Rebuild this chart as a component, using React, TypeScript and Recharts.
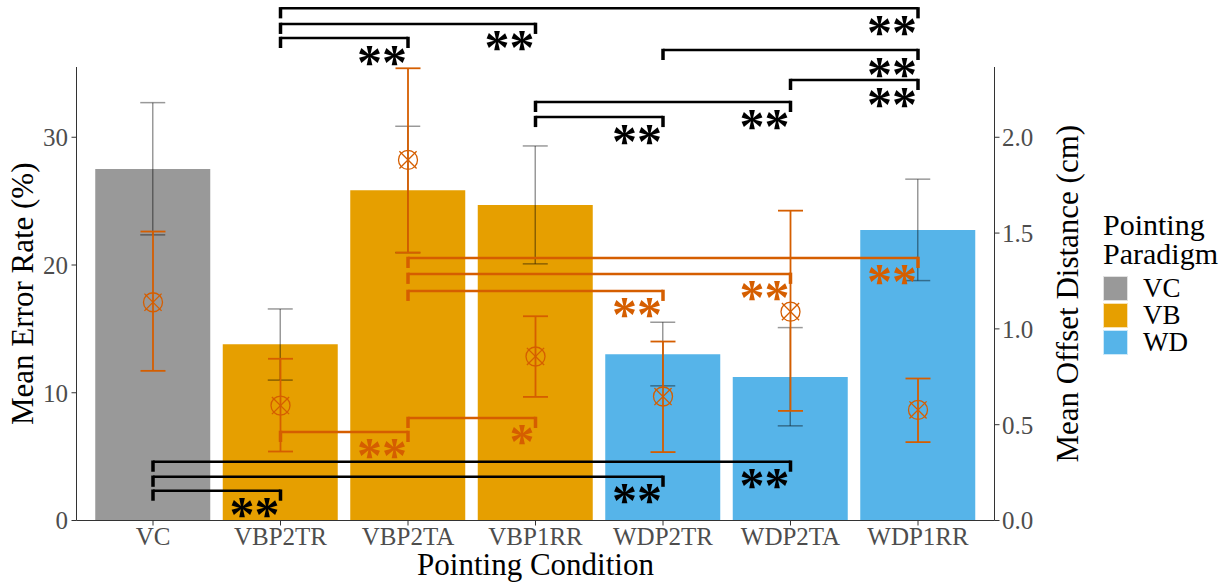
import { ComposedChart, Bar, Cell, ErrorBar, Scatter, XAxis, YAxis, ReferenceLine, Legend, Label } from 'recharts'

const categories = ['VC', 'VBP2TR', 'VBP2TA', 'VBP1RR', 'WDP2TR', 'WDP2TA', 'WDP1RR']
const paradigmOf = ['VC', 'VB', 'VB', 'VB', 'WD', 'WD', 'WD']

// mean error rate (%) with lower / upper bounds of the error bars
const errorRate = [27.52, 13.8, 25.85, 24.7, 13.02, 11.24, 22.75]
const errorRateLow = [22.36, 10.99, 20.97, 20.09, 10.54, 7.41, 18.78]
const errorRateHigh = [32.71, 16.56, 30.86, 29.32, 15.52, 15.1, 26.72]

// mean offset distance (cm) with lower / upper bounds
const offsetCm = [1.139, 0.6, 1.882, 0.856, 0.647, 1.09, 0.577]
const offsetLow = [0.781, 0.36, 1.398, 0.645, 0.357, 0.572, 0.409]
const offsetHigh = [1.508, 0.844, 2.36, 1.066, 0.934, 1.617, 0.741]

const paradigms = ['VC', 'VB', 'WD']
const paradigmColors: Record<string, string> = { VC: '#999999', VB: '#E69F00', WD: '#56B4E9' }

const rateTicks = [0, 10, 20, 30]
const offsetTicks = [0, 0.5, 1, 1.5, 2]

// significance brackets: [from, to, height, stars]
const rateSig: [string, string, number, string][] = [
  ['VBP2TR', 'WDP1RR', 40.09, '**'],
  ['VBP2TR', 'VBP1RR', 38.87, '**'],
  ['VBP2TR', 'VBP2TA', 37.77, '**'],
  ['WDP2TR', 'WDP1RR', 36.83, '**'],
  ['WDP2TA', 'WDP1RR', 34.48, '**'],
  ['VBP1RR', 'WDP2TA', 32.76, '**'],
  ['VBP1RR', 'WDP2TR', 31.58, '**'],
  ['VC', 'WDP2TA', 4.6, '**'],
  ['VC', 'WDP2TR', 3.42, '**'],
  ['VC', 'VBP2TR', 2.33, '**'],
]
const offsetSig: [string, string, number, string][] = [
  ['VBP2TA', 'WDP1RR', 1.37, '**'],
  ['VBP2TA', 'WDP2TA', 1.287, '**'],
  ['VBP2TA', 'WDP2TR', 1.198, '**'],
  ['VBP2TA', 'VBP1RR', 0.535, '*'],
  ['VBP2TR', 'VBP2TA', 0.462, '**'],
]

const data = categories.map((c, i) => ({
  condition: c,
  paradigm: paradigmOf[i],
  rate: errorRate[i],
  rateErr: [errorRate[i] - errorRateLow[i], errorRateHigh[i] - errorRate[i]],
  offset: offsetCm[i],
  offsetErr: [offsetCm[i] - offsetLow[i], offsetHigh[i] - offsetCm[i]],
}))

const FONT = "'Liberation Serif', 'Times New Roman', serif"
const ORANGE = '#D55E00'
const STAR = 50

const bracket = (stars: string, color: string) => (p: any) => {
  const { x1, x2, y1 } = p
  return (
    <g>
      <line x1={x1} x2={x2} y1={y1} y2={y1} stroke={color} strokeWidth={2.5} />
      <line x1={x1} x2={x1} y1={y1 - 1.25} y2={y1 + 10} stroke={color} strokeWidth={3.5} />
      <line x1={x2} x2={x2} y1={y1 - 1.25} y2={y1 + 10} stroke={color} strokeWidth={3.5} />
      <text
        x={x2 - 1}
        y={y1 + 17 + 0.47 * STAR}
        textAnchor="end"
        fontSize={STAR}
        fontWeight="bold"
        fill={color}
        fontFamily={FONT}
      >
        {stars}
      </text>
    </g>
  )
}

const CrossCircle = (p: any) => {
  const { cx, cy } = p
  if (cx == null || cy == null) return null
  const d = 8.6
  return (
    <g stroke={ORANGE} strokeWidth={1.3} fill="none">
      <circle cx={cx} cy={cy} r={9.5} />
      <line x1={cx - d} y1={cy - d} x2={cx + d} y2={cy + d} />
      <line x1={cx - d} y1={cy + d} x2={cx + d} y2={cy - d} />
    </g>
  )
}

const renderLegend = () => (
  <div style={{ fontFamily: FONT, color: '#000' }}>
    <div style={{ fontSize: 30, lineHeight: '29px' }}>
      Pointing
      <br />
      Paradigm
    </div>
    <div style={{ marginTop: 7 }}>
      {paradigms.map((p) => (
        <div key={p} style={{ display: 'flex', alignItems: 'center', height: 27 }}>
          <span
            style={{
              width: 25,
              height: 25,
              boxSizing: 'border-box',
              background: paradigmColors[p],
              border: '1px solid rgba(255,255,255,0.7)',
            }}
          />
          <span style={{ marginLeft: 15, fontSize: 27, lineHeight: '27px' }}>{p}</span>
        </div>
      ))}
    </div>
  </div>
)

const axisTitle = (text: string, side: 'left' | 'right' | 'bottom') => (props: any) => {
  const vb = props.viewBox
  if (side === 'bottom') {
    return (
      <text x={vb.x + vb.width / 2} y={vb.y + 54} textAnchor="middle" fontSize={31} fill="#000" fontFamily={FONT}>
        {text}
      </text>
    )
  }
  const x = side === 'left' ? vb.x + 25 : vb.x + 83.5
  const y = vb.y + vb.height / 2
  return (
    <text transform={`translate(${x},${y}) rotate(-90)`} textAnchor="middle" fontSize={31} fill="#000" fontFamily={FONT}>
      {text}
    </text>
  )
}

const tickStyle = { fill: '#4d4d4d', fontSize: 25, fontFamily: FONT }

export default function App() {
  return (
    <div style={{ fontFamily: FONT, width: 1231, height: 585 }}>
      <style>{'body{margin:0}'}</style>
      <ComposedChart width={1231} height={585} data={data} margin={{ top: 67, right: 136.5, bottom: 7.5, left: 8 }}>
        <XAxis
          dataKey="condition"
          type="category"
          padding={{ left: 12.75, right: 12.75 }}
          height={57}
          tickSize={5}
          tickMargin={2}
          tick={tickStyle}
          axisLine={{ stroke: '#333' }}
          tickLine={{ stroke: '#333' }}
        >
          <Label content={axisTitle('Pointing Condition', 'bottom')} />
        </XAxis>
        <YAxis
          yAxisId="left"
          orientation="left"
          width={68.5}
          domain={[0, 35.5]}
          ticks={rateTicks}
          allowDataOverflow
          tickSize={5}
          tickMargin={3.5}
          tick={tickStyle}
          axisLine={{ stroke: '#333' }}
          tickLine={{ stroke: '#333' }}
        >
          <Label content={axisTitle('Mean Error Rate (%)', 'left')} />
        </YAxis>
        <YAxis
          yAxisId="right"
          orientation="right"
          width={100}
          domain={[0, 2.3667]}
          ticks={offsetTicks}
          allowDataOverflow
          tickFormatter={(v: number) => v.toFixed(1)}
          tickSize={5}
          tickMargin={2.5}
          tick={tickStyle}
          axisLine={{ stroke: '#333' }}
          tickLine={{ stroke: '#333' }}
        >
          <Label content={axisTitle('Mean Offset Distance (cm)', 'right')} />
        </YAxis>
        <Legend
          content={renderLegend}
          layout="vertical"
          align="center"
          verticalAlign="middle"
          wrapperStyle={{ left: 1103, top: 210.4, width: 120 }}
        />
        <Bar dataKey="rate" yAxisId="left" barSize={115} isAnimationActive={false}>
          {data.map((d) => (
            <Cell key={d.condition} fill={paradigmColors[d.paradigm]} />
          ))}
          <ErrorBar dataKey="rateErr" direction="y" width={12.5} stroke="#000" strokeOpacity={0.4} strokeWidth={1.5} />
        </Bar>
        <Scatter dataKey="offset" yAxisId="right" shape={CrossCircle} isAnimationActive={false}>
          <ErrorBar dataKey="offsetErr" direction="y" width={12.5} stroke={ORANGE} strokeWidth={1.8} />
        </Scatter>
        {rateSig.map(([a, b, y, s]) => (
          <ReferenceLine
            key={`r-${a}-${b}`}
            yAxisId="left"
            segment={[{ x: a, y }, { x: b, y }]}
            position="middle"
            ifOverflow="visible"
            shape={bracket(s, '#000')}
          />
        ))}
        {offsetSig.map(([a, b, y, s]) => (
          <ReferenceLine
            key={`o-${a}-${b}`}
            yAxisId="right"
            segment={[{ x: a, y }, { x: b, y }]}
            position="middle"
            ifOverflow="visible"
            shape={bracket(s, ORANGE)}
          />
        ))}
      </ComposedChart>
    </div>
  )
}
